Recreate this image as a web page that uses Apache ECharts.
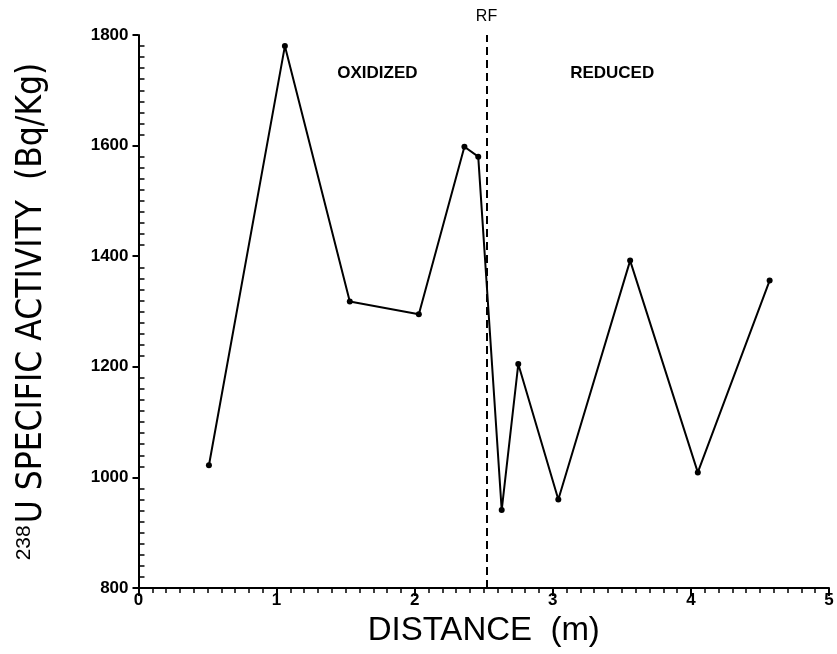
<!DOCTYPE html>
<html>
<head>
<meta charset="utf-8">
<script src="https://cdn.jsdelivr.net/npm/echarts@6/dist/echarts.min.js"></script>
<style>
  html, body { margin: 0; padding: 0; background: #fff; }
  #chart { width: 837px; height: 654px; }
</style>
</head>
<body>
<div id="chart"></div>
<script>
// Distance along the profile (m) and 238U specific activity (Bq/Kg)
const distance = [0.51, 1.06, 1.53, 2.03, 2.36, 2.46, 2.63, 2.75, 3.04, 3.56, 4.05, 4.57];
const activity = [1022, 1780, 1318, 1295, 1598, 1580, 941, 1205, 960, 1392, 1009, 1356];

// Redox front position (m)
const redoxFront = 2.52;

// Axis ranges and tick labels
const xTicks = [0, 1, 2, 3, 4, 5];
const yTicks = [800, 1000, 1200, 1400, 1600, 1800];

const zoneLabels = [
  { text: 'OXIDIZED', x: 1.73 },
  { text: 'REDUCED', x: 3.43 }
];

const points = distance.map((d, i) => [d, activity[i]]);

const chart = echarts.init(document.getElementById('chart'));

const labelFont = 'Liberation Sans, Arial, sans-serif';

chart.setOption({
  animation: false,
  backgroundColor: '#fff',
  grid: { left: 138.5, right: 8, top: 35, bottom: 66, containLabel: false, outerBoundsMode: 'none' },
  xAxis: {
    type: 'value',
    min: xTicks[0],
    max: xTicks[xTicks.length - 1],
    interval: 1,
    name: 'DISTANCE  (m)',
    nameLocation: 'middle',
    nameGap: 26,
    nameTextStyle: { fontFamily: labelFont, fontSize: 33, color: '#000' },
    axisLine: { lineStyle: { color: '#000', width: 2 } },
    axisTick: { show: true, length: 8, lineStyle: { color: '#000', width: 2 } },
    minorTick: { show: true, splitNumber: 10, length: 5, lineStyle: { color: '#000', width: 1.5 } },
    axisLabel: { fontFamily: labelFont, fontWeight: 'bold', fontSize: 17, color: '#000', margin: 4, formatter: v => String(v) },
    splitLine: { show: false }
  },
  yAxis: {
    type: 'value',
    min: yTicks[0],
    max: yTicks[yTicks.length - 1],
    interval: 200,
    name: '{sup|238}U SPECIFIC ACTIVITY  (Bq/Kg)',
    nameLocation: 'middle',
    nameRotate: 90,
    nameGap: 88,
    nameTextStyle: {
      fontFamily: 'Liberation Sans Narrow, DejaVu Sans Condensed, Liberation Sans, sans-serif',
      fontSize: 35,
      color: '#000',
      rich: {
        sup: { fontSize: 21, verticalAlign: 'top', fontFamily: 'Liberation Sans, sans-serif', color: '#000', padding: [0, 2, 16, 0] }
      }
    },
    axisLine: { lineStyle: { color: '#000', width: 2 } },
    axisTick: { show: true, length: 6, lineStyle: { color: '#000', width: 2 } },
    minorTick: { show: true, splitNumber: 10, length: -6, lineStyle: { color: '#000', width: 1.5 } },
    axisLabel: { fontFamily: labelFont, fontWeight: 'bold', fontSize: 17, color: '#000', margin: 10, formatter: v => String(v) },
    splitLine: { show: false }
  },
  series: [
    {
      type: 'line',
      data: points,
      symbol: 'circle',
      symbolSize: 6,
      itemStyle: { color: '#000' },
      lineStyle: { color: '#000', width: 2 },
      markLine: {
        silent: true,
        symbol: 'none',
        lineStyle: { color: '#000', width: 2, type: [8, 5] },
        label: {
          show: true,
          position: 'end',
          formatter: 'RF',
          fontFamily: labelFont,
          fontSize: 16,
          color: '#000',
          distance: 10
        },
        data: [[{ coord: [redoxFront, yTicks[0]] }, { coord: [redoxFront, yTicks[yTicks.length - 1]] }]]
      }
    },
    {
      type: 'scatter',
      silent: true,
      symbolSize: 0,
      itemStyle: { color: '#000', opacity: 1 },
      data: zoneLabels.map(z => ({ value: [z.x, 1730], name: z.text })),
      label: {
        show: true,
        position: 'inside',
        formatter: p => p.name,
        fontFamily: labelFont,
        fontWeight: 'bold',
        fontSize: 17,
        color: '#000',
        opacity: 1,
        textBorderWidth: 0
      }
    }
  ]
});
</script>
</body>
</html>
